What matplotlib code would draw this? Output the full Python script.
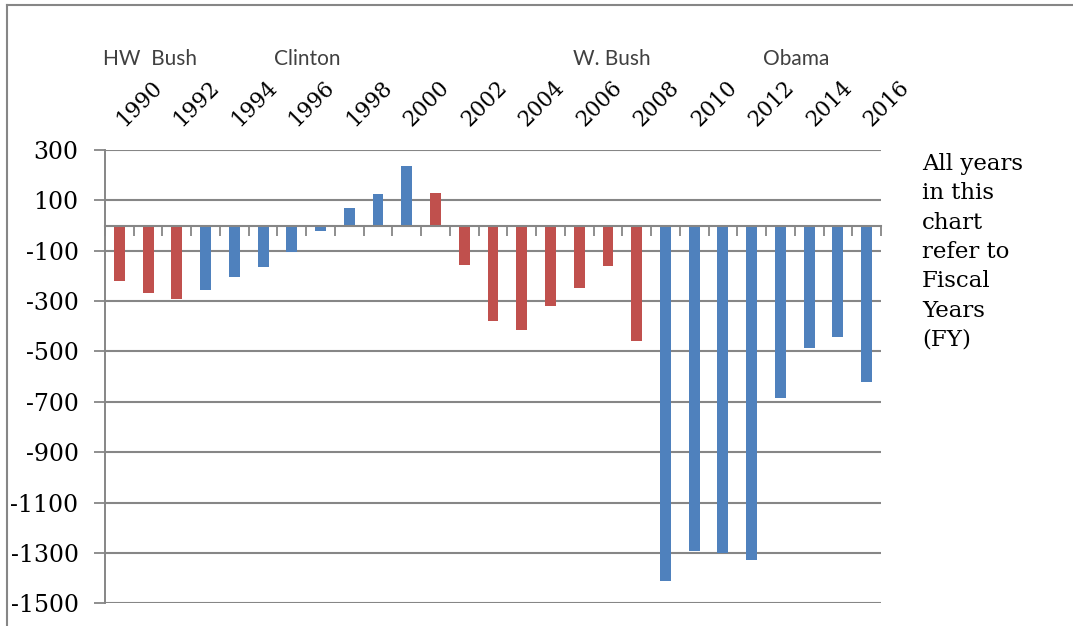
import numpy as np
import matplotlib
matplotlib.use("Agg")
import matplotlib.pyplot as plt
from matplotlib.lines import Line2D
from matplotlib.transforms import offset_copy

# Federal budget surplus / deficit by fiscal year (billions of dollars)
years = list(range(1990, 2017))
deficits = [-221, -269, -290, -255, -203, -164, -107, -22, 69, 126, 236,
            128, -158, -378, -413, -318, -248, -161, -459,
            -1413, -1294, -1300, -1330, -683, -485, -441, -620]
# Party of the president in office each fiscal year
party = ["R"] * 3 + ["D"] * 8 + ["R"] * 8 + ["D"] * 8

presidents = ["HW  Bush", "Clinton", "W. Bush", "Obama"]
president_x_px = [103, 274, 573, 763]

yticks = [300, 100, -100, -300, -500, -700, -900, -1100, -1300, -1500]
ytick_labels = [str(v) for v in yticks]

note = "All years\nin this\nchart\nrefer to\nFiscal\nYears\n(FY)"

RED = "#C0504D"
BLUE = "#4F81BD"
GRID = "#868686"

W, H = 1073, 626
fig = plt.figure(figsize=(W / 100, H / 100), dpi=100)
ax = fig.add_axes([105 / W, 1 - 603.3 / H, 776 / W, 453.3 / H])

x = np.arange(len(years))
colors = [RED if p == "R" else BLUE for p in party]
ax.bar(x, deficits, width=0.38, color=colors, zorder=2)

ax.set_xlim(-0.5, len(years) - 0.5)
ax.set_ylim(-1500, 300)

# y axis
ax.set_yticks(yticks)
ax.set_yticklabels(ytick_labels, fontfamily="DejaVu Serif", fontsize=17)
ax.tick_params(axis="y", length=8, width=1.3, color=GRID, pad=11)
ax.grid(axis="y", color=GRID, lw=1.5)
ax.set_axisbelow(True)

# category axis running through zero, with ticks between categories
ax.spines["bottom"].set_position(("data", 0))
ax.spines["bottom"].set_color(GRID)
ax.spines["bottom"].set_linewidth(1.5)
ax.spines["left"].set_color(GRID)
ax.spines["left"].set_linewidth(1.4)
ax.spines["top"].set_visible(False)
ax.spines["right"].set_visible(False)
ax.set_xticks(np.arange(-0.5, len(years), 1))
ax.tick_params(axis="x", direction="out", length=7, width=1.3, color=GRID,
               labelbottom=False)

# year labels above the plot, every other year
label_tr = offset_copy(ax.get_xaxis_transform(), fig=fig, x=20, y=0, units="dots")
for i in range(0, len(years), 2):
    ax.text(x[i], 1.1037, str(years[i]), transform=label_tr, rotation=45,
            ha="center", va="center", fontsize=15.5, fontfamily="DejaVu Serif",
            color="black")

# presidents
for name, px in zip(presidents, president_x_px):
    fig.text(px / W, 1 - 65 / H, name, ha="left", va="baseline",
             fontsize=15, fontfamily="Lato", color="#404040")

# side note
fig.text(922 / W, 1 - 153 / H, note, ha="left", va="top", fontsize=16.5,
         fontfamily="DejaVu Serif", color="black", linespacing=1.43)

# frame lines along the left and top edges
fig.add_artist(Line2D([7 / W, 7 / W], [0, 1 - 5 / H], transform=fig.transFigure,
                      color=GRID, lw=1.5))
fig.add_artist(Line2D([7 / W, 1], [1 - 5 / H, 1 - 5 / H], transform=fig.transFigure,
                      color=GRID, lw=1.5))

fig.savefig("out.png", dpi=100)
